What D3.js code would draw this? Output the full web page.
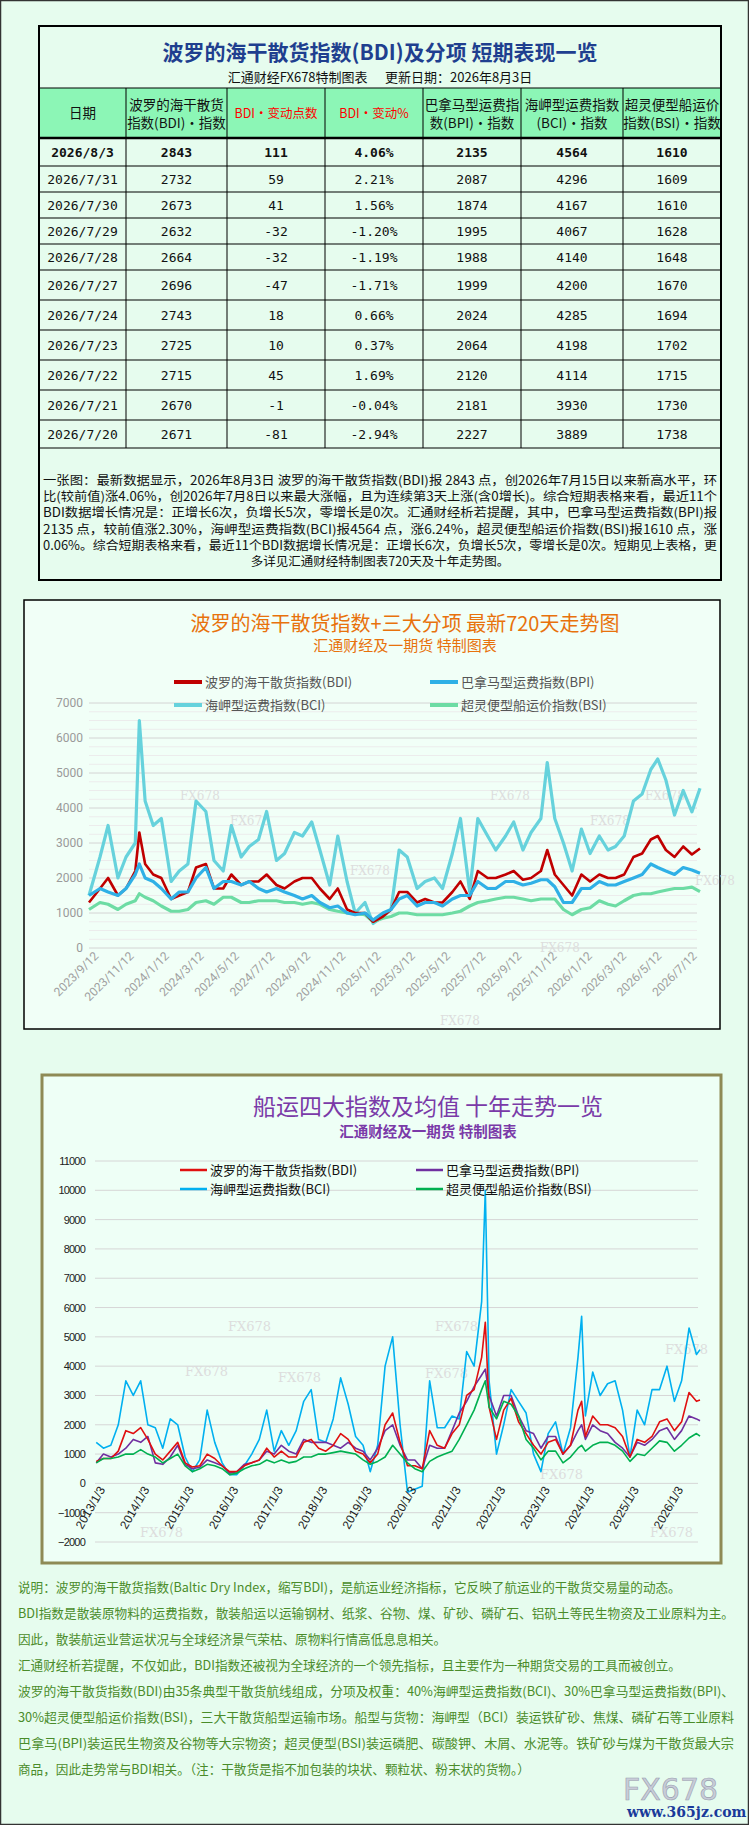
<!DOCTYPE html>
<html><head><meta charset="utf-8">
<script src="https://cdn.jsdelivr.net/npm/d3@7"></script>
<style>
body{margin:0;background:#e6fcee;}
svg{display:block;font-family:"Noto Sans CJK SC","Noto Sans",sans-serif;}
</style></head>
<body><svg id="page" width="749" height="1825"></svg>
<script>
var page_width = 749;
var page_height = 1825;

// ---------- table data ----------
var table_headers = ["日期", "波罗的海干散货|指数(BDI)·指数", "BDI·变动点数", "BDI·变动%", "巴拿马型运费指|数(BPI)·指数", "海岬型运费指数|(BCI)·指数", "超灵便型船运价|指数(BSI)·指数"];
var table_dates = ["2026/8/3","2026/7/31","2026/7/30","2026/7/29","2026/7/28","2026/7/27","2026/7/24","2026/7/23","2026/7/22","2026/7/21","2026/7/20"];
var table_bdi = [2843,2732,2673,2632,2664,2696,2743,2725,2715,2670,2671];
var table_chg = [111,59,41,-32,-32,-47,18,10,45,-1,-81];
var table_pct = ["4.06%","2.21%","1.56%","-1.20%","-1.19%","-1.71%","0.66%","0.37%","1.69%","-0.04%","-2.94%"];
var table_bpi = [2135,2087,1874,1995,1988,1999,2024,2064,2120,2181,2227];
var table_bci = [4564,4296,4167,4067,4140,4200,4285,4198,4114,3930,3889];
var table_bsi = [1610,1609,1610,1628,1648,1670,1694,1702,1715,1730,1738];

var summary_lines = [
 "一张图：最新数据显示，2026年8月3日 波罗的海干散货指数(BDI)报 2843 点，创2026年7月15日以来新高水平，环",
 "比(较前值)涨4.06%，创2026年7月8日以来最大涨幅，且为连续第3天上涨(含0增长)。综合短期表格来看，最近11个",
 "BDI数据增长情况是：正增长6次，负增长5次，零增长是0次。汇通财经析若提醒，其中，巴拿马型运费指数(BPI)报",
 "2135 点，较前值涨2.30%，海岬型运费指数(BCI)报4564 点，涨6.24%，超灵便型船运价指数(BSI)报1610 点，涨",
 "0.06%。综合短期表格来看，最近11个BDI数据增长情况是：正增长6次，负增长5次，零增长是0次。短期见上表格，更",
 "多详见汇通财经特制图表720天及十年走势图。"
];

// ---------- 720 day chart ----------
var dates1 = ["2023-09-12","2023-10-01","2023-10-15","2023-11-01","2023-11-15","2023-12-01","2023-12-08","2023-12-18",
 "2024-01-01","2024-01-15","2024-02-01","2024-02-15","2024-03-01","2024-03-15","2024-04-01","2024-04-15","2024-05-01","2024-05-15",
 "2024-06-01","2024-06-15","2024-07-01","2024-07-15","2024-08-01","2024-08-15","2024-09-01","2024-09-15","2024-10-01","2024-10-15",
 "2024-11-01","2024-11-15","2024-12-01","2024-12-15","2025-01-01","2025-01-15","2025-02-01","2025-02-15","2025-03-01","2025-03-15",
 "2025-04-01","2025-04-15","2025-05-01","2025-05-15","2025-06-01","2025-06-15","2025-07-01","2025-07-15","2025-08-01","2025-08-15",
 "2025-09-01","2025-09-15","2025-10-01","2025-10-15","2025-11-01","2025-11-12","2025-11-25","2025-12-10","2025-12-25",
 "2026-01-10","2026-01-25","2026-02-10","2026-02-25","2026-03-10","2026-03-25","2026-04-10","2026-04-25","2026-05-10","2026-05-22",
 "2026-06-05","2026-06-20","2026-07-05","2026-07-20","2026-08-03"];
var bdi1 = [1300,1700,2000,1500,1700,2200,3300,2400,2100,2000,1400,1500,1600,2300,2400,1700,1700,2100,1800,1900,1900,2100,1800,1700,
 1900,2000,2000,1700,1400,1700,1100,1000,1000,750,900,1100,1600,1600,1300,1400,1300,1300,1600,1900,1400,2200,2000,2000,
 2100,2200,1950,2000,2200,2800,2100,1800,1500,2100,1900,2100,2000,2000,2100,2600,2700,3100,3200,2800,2600,2900,2671,2843];
var bpi1 = [1500,1700,1600,1500,1700,2100,2400,2000,1900,1700,1400,1600,1600,2000,2300,1700,1900,1900,1800,1900,1700,1600,1700,1600,
 1500,1400,1500,1300,1150,1200,1000,950,1000,800,1000,1100,1400,1500,1200,1300,1300,1200,1400,1500,1500,1900,1700,1700,
 1900,1900,1800,1850,1950,1950,1750,1300,1300,1700,1700,1900,1800,1800,1900,2000,2100,2400,2300,2200,2100,2300,2227,2135];
var bci1 = [1500,2600,3500,2000,2600,3000,6500,4200,3500,3700,1900,2200,2400,4200,3900,2500,2200,3500,2600,2900,3100,3900,2500,2700,
 3300,3200,3600,2800,1800,3200,1900,1000,1300,700,900,1100,2800,2600,1700,1900,2000,1700,2700,3700,1600,3700,3200,2800,
 3200,3600,2800,3300,3700,5300,3700,3000,2200,3400,2700,3200,2800,2900,3200,4200,4400,5100,5400,4800,3800,4500,3889,4564];
var bsi1 = [1100,1300,1250,1100,1250,1350,1550,1450,1350,1200,1050,1050,1100,1300,1350,1250,1450,1450,1300,1300,1350,1350,1350,1300,
 1300,1250,1300,1250,1100,1050,1000,980,950,750,850,900,1000,1000,950,950,950,950,1000,1050,1200,1300,1350,1400,
 1450,1450,1400,1350,1400,1400,1400,1100,950,1100,1150,1350,1250,1200,1350,1500,1550,1550,1600,1650,1700,1700,1738,1610];
var ticks1 = ["2023/9/12","2023/11/12","2024/1/12","2024/3/12","2024/5/12","2024/7/12","2024/9/12","2024/11/12","2025/1/12",
 "2025/3/12","2025/5/12","2025/7/12","2025/9/12","2025/11/12","2026/1/12","2026/3/12","2026/5/12","2026/7/12"];

// ---------- ten year chart ----------
var dates2 = [
 "2013-01-05","2013-03-05","2013-05-05","2013-07-05","2013-09-05","2013-11-05",
 "2014-01-05","2014-03-05","2014-05-05","2014-07-05","2014-09-05","2014-11-05",
 "2015-01-05","2015-03-05","2015-05-05","2015-07-05","2015-09-05","2015-11-05",
 "2016-01-05","2016-03-05","2016-05-05","2016-07-05","2016-09-05","2016-11-05",
 "2017-01-05","2017-03-05","2017-05-05","2017-07-05","2017-09-05","2017-11-05",
 "2018-01-05","2018-03-05","2018-05-05","2018-07-05","2018-09-05","2018-11-05",
 "2019-01-05","2019-03-05","2019-05-05","2019-07-05","2019-09-05","2019-11-05",
 "2020-01-05","2020-03-05","2020-05-05","2020-07-05","2020-09-05","2020-11-05",
 "2021-01-05","2021-03-05","2021-05-05","2021-07-05","2021-09-05","2021-10-05","2021-11-05",
 "2022-01-05","2022-03-05","2022-05-05","2022-07-05","2022-09-05","2022-11-05",
 "2023-01-05","2023-03-05","2023-05-05","2023-07-05","2023-09-05","2023-11-05","2023-12-05",
 "2024-01-05","2024-03-05","2024-05-05","2024-07-05","2024-09-05","2024-11-05",
 "2025-01-05","2025-03-05","2025-05-05","2025-07-05","2025-09-05","2025-11-05",
 "2026-01-05","2026-03-05","2026-05-05","2026-07-05","2026-08-03"];
var bdi2 = [750,850,850,1100,1800,1700, 1900,1500,1000,800,1100,1400, 700,560,600,1000,850,600, 400,400,600,700,800,1200,
 900,1100,900,900,1400,1500, 1200,1100,1300,1700,1500,1100, 1000,700,1000,2000,2400,1400, 600,600,500,1800,1300,1200,
 1700,2000,3000,3200,4300,5500,2600, 1500,2500,2900,2100,1700,1300, 1000,1400,1500,1000,1300,2500,2800,
 1600,2300,2000,2000,1900,1600, 900,1500,1400,1600,2100,2200, 1800,2100,3100,2800,2843];
var bpi2 = [700,1000,900,1000,1200,1500, 1400,1600,700,650,900,1300, 650,500,550,800,700,600, 350,400,650,700,800,1100,
 1000,1300,1100,1000,1500,1400, 1400,1400,1300,1200,1400,1200, 1100,800,1200,1800,2000,1300, 800,800,500,1300,1200,1200,
 1800,2400,2800,3300,3700,3900,3000, 2300,3000,3000,2300,1800,1700, 1200,1600,1600,1000,1300,1800,2000,
 1500,2000,1800,1700,1400,1200, 900,1400,1300,1500,1800,1900, 1500,1800,2300,2200,2135];
var bci2 = [1400,1200,1300,2000,3500,3000, 3500,2000,1900,1200,2200,2000, 900,400,800,2500,1400,700, 300,300,600,1000,1500,2500,
 1100,1800,1300,1800,2800,3200, 1500,1400,2200,3600,2700,1600, 1300,400,1300,4000,5000,2000, -300,-200,-100,3500,1900,1900,
 2300,2200,4500,4000,6200,10000,3500, 1000,2000,3200,2800,2400,1000, 400,1700,2100,1000,1900,4300,5700,
 2300,3800,3000,3400,3500,2500, 900,2500,2000,3200,3200,4000, 2800,3500,5300,4400,4564];
var bsi2 = [700,850,850,900,1000,1000, 1150,1000,900,700,850,1000, 600,400,500,650,600,500, 300,350,500,600,650,800,
 700,800,700,750,900,900, 1000,1000,1050,1100,1050,1000, 800,650,750,900,1300,1000, 700,500,400,750,900,1000,
 1100,1500,2000,2500,3200,3500,2600, 2200,2800,2700,2300,1500,1200, 800,1100,1100,700,900,1200,1300,
 1100,1300,1400,1400,1300,1100, 750,1000,950,1200,1450,1400, 1100,1300,1550,1700,1610];
var ticks2 = ["2013/1/3","2014/1/3","2015/1/3","2016/1/3","2017/1/3","2018/1/3","2019/1/3","2020/1/3","2021/1/3",
 "2022/1/3","2023/1/3","2024/1/3","2025/1/3","2026/1/3"];

var note_lines = [
 "说明：波罗的海干散货指数(Baltic Dry Index，缩写BDI)，是航运业经济指标，它反映了航运业的干散货交易量的动态。",
 "BDI指数是散装原物料的运费指数，散装船运以运输钢材、纸浆、谷物、煤、矿砂、磷矿石、铝矾土等民生物资及工业原料为主。",
 "因此，散装航运业营运状况与全球经济景气荣枯、原物料行情高低息息相关。",
 "汇通财经析若提醒，不仅如此，BDI指数还被视为全球经济的一个领先指标，且主要作为一种期货交易的工具而被创立。",
 "波罗的海干散货指数(BDI)由35条典型干散货航线组成，分项及权重：40%海岬型运费指数(BCI)、30%巴拿马型运费指数(BPI)、",
 "30%超灵便型船运价指数(BSI)，三大干散货船型运输市场。船型与货物：海岬型（BCI）装运铁矿砂、焦煤、磷矿石等工业原料",
 "巴拿马(BPI)装运民生物资及谷物等大宗物资；超灵便型(BSI)装运磷肥、碳酸钾、木屑、水泥等。铁矿砂与煤为干散货最大宗",
 "商品，因此走势常与BDI相关。（注：干散货是指不加包装的块状、颗粒状、粉末状的货物。）"
];

var svg = d3.select("#page");
svg.append("rect").attr("x",0.5).attr("y",0.5).attr("width",page_width-1).attr("height",page_height-1)
  .attr("fill","#e6fcee").attr("stroke","#333").attr("stroke-width",1.5);

function displayTable()
{
  var g = svg.append("g");
  var colX = [39,126,227,325,423,521,623,721];
  var rowY = [138,166,192,218,244,270,300,330,360,390,420,448];
  g.append("rect").attr("x",colX[0]).attr("y",88).attr("width",682).attr("height",50).attr("fill","#8cf6b6");
  g.append("text").attr("x",380).attr("y",60).attr("text-anchor","middle").attr("font-size",21).attr("font-weight","bold")
    .attr("fill","#1f3f8f").text("波罗的海干散货指数(BDI)及分项  短期表现一览");
  g.append("text").attr("x",380).attr("y",82).attr("text-anchor","middle").attr("font-size",13).attr("fill","#111")
    .attr("xml:space","preserve").text("汇通财经FX678特制图表      更新日期：2026年8月3日");
  table_headers.forEach(function(h,i){
    var cx = (colX[i]+colX[i+1])/2;
    var parts = h.split("|");
    var red = (i==2||i==3);
    parts.forEach(function(p,j){
      g.append("text").attr("x",cx).attr("y", parts.length==1 ? 118 : 110+j*18).attr("text-anchor","middle")
       .attr("font-size", red ? 12.5 : 13.5).attr("fill", red ? "#ff0000" : "#111").text(p);
    });
  });
  var cols = [table_dates,table_bdi,table_chg,table_pct,table_bpi,table_bci,table_bsi];
  table_dates.forEach(function(d,r){
    var cy = (rowY[r]+rowY[r+1])/2 + 5;
    cols.forEach(function(c,i){
      g.append("text").attr("x",(colX[i]+colX[i+1])/2).attr("y",cy).attr("text-anchor","middle")
       .attr("font-family","'DejaVu Sans Mono',monospace").attr("font-size",13)
       .attr("font-weight", r==0 ? "bold" : "normal").attr("fill","#111").text(c[r]);
    });
  });
  rowY.forEach(function(y,i){
    g.append("line").attr("x1",colX[0]).attr("x2",colX[7]).attr("y1",y).attr("y2",y)
     .attr("stroke","#000").attr("stroke-width", i==0 ? 2.5 : 1);
  });
  colX.slice(1,7).forEach(function(x){
    g.append("line").attr("x1",x).attr("x2",x).attr("y1",88).attr("y2",448).attr("stroke","#000").attr("stroke-width",1);
  });
  g.append("line").attr("x1",colX[0]).attr("x2",colX[7]).attr("y1",88).attr("y2",88).attr("stroke","#000").attr("stroke-width",1);
  g.append("rect").attr("x",39).attr("y",26).attr("width",682).attr("height",554).attr("fill","none").attr("stroke","#000").attr("stroke-width",2);
  summary_lines.forEach(function(l,i){
    var t = g.append("text").attr("y",485+i*16.2).attr("font-size",12.5).attr("fill","#111").text(l);
    if (i < 5) t.attr("x",43).attr("textLength",674).attr("lengthAdjust","spacingAndGlyphs");
    else t.attr("x",380).attr("text-anchor","middle");
  });
}

function drawSeries(g, x, y, dates, values, color, width)
{
  var parse = d3.timeParse("%Y-%m-%d");
  var line = d3.line().x(function(d,i){ return x(parse(dates[i])); }).y(function(d){ return y(d); });
  g.append("path").datum(values).attr("d",line).attr("fill","none").attr("stroke",color)
   .attr("stroke-width",width).attr("stroke-linejoin","round");
}

function displayChart1()
{
  var g = svg.append("g");
  g.append("rect").attr("x",24).attr("y",600).attr("width",696).attr("height",429).attr("fill","#f1fff7").attr("stroke","#000").attr("stroke-width",1.5);
  g.append("text").attr("x",405).attr("y",631).attr("text-anchor","middle").attr("font-size",20).attr("fill","#e8720c").text("波罗的海干散货指数+三大分项  最新720天走势图");
  g.append("text").attr("x",405).attr("y",651).attr("text-anchor","middle").attr("font-size",15).attr("fill","#e8720c").text("汇通财经及一期货  特制图表");
  var parse = d3.timeParse("%Y-%m-%d");
  var x = d3.scaleTime().domain([parse("2023-09-12"),parse("2026-08-03")]).range([89,700]);
  var y = d3.scaleLinear().domain([0,7000]).range([948,703]);
  d3.range(0,7001,250).forEach(function(v){
    g.append("line").attr("x1",89).attr("x2",697).attr("y1",y(v)).attr("y2",y(v))
     .attr("stroke", v%1000==0 ? "#d4d4d4" : "#ececec").attr("stroke-width",1);
  });
  var ay = g.append("g").attr("transform","translate(86,0)").call(d3.axisLeft(y).tickValues(d3.range(0,7001,1000)).tickSize(0).tickFormat(d3.format("d")));
  ay.select(".domain").remove();
  ay.selectAll("text").attr("fill","#9a9a9a").attr("font-size",12).attr("font-family","Roboto,sans-serif");
  var tickDates = ticks1.map(function(t){ return d3.timeParse("%Y/%m/%d")(t); });
  var ax = g.append("g").attr("transform","translate(0,952)").call(d3.axisBottom(x).tickValues(tickDates).tickSize(0).tickFormat(d3.timeFormat("%Y/%-m/%-d")));
  ax.select(".domain").remove();
  ax.selectAll("text").attr("fill","#a0a0a0").attr("font-size",12).attr("font-family","Roboto,sans-serif")
    .attr("text-anchor","end").attr("dx","0.3em").attr("dy","0.6em").attr("transform","rotate(-45)");
  [[180,800],[230,825],[350,875],[490,800],[590,825],[540,952],[440,1025],[645,800],[695,885]].forEach(function(p){
    g.append("text").attr("x",p[0]).attr("y",p[1]).attr("font-size",12).attr("fill","#dddddd").attr("font-family","DejaVu Serif").text("FX678");
  });
  drawSeries(g,x,y,dates1,bci1,"#66d2dc",3.2);
  drawSeries(g,x,y,dates1,bsi1,"#6ddca4",3.2);
  drawSeries(g,x,y,dates1,bdi1,"#c00000",2.6);
  drawSeries(g,x,y,dates1,bpi1,"#2fb0e6",3.2);
  var leg = [["波罗的海干散货指数(BDI)","#c00000",174,682],["巴拿马型运费指数(BPI)","#2fb0e6",430,682],
             ["海岬型运费指数(BCI)","#66d2dc",174,705],["超灵便型船运价指数(BSI)","#6ddca4",430,705]];
  leg.forEach(function(l){
    g.append("line").attr("x1",l[2]).attr("x2",l[2]+28).attr("y1",l[3]).attr("y2",l[3]).attr("stroke",l[1]).attr("stroke-width",4);
    g.append("text").attr("x",l[2]+31).attr("y",l[3]+5).attr("font-size",13).attr("fill","#555").text(l[0]);
  });
}

function displayChart2()
{
  var g = svg.append("g");
  g.append("rect").attr("x",42).attr("y",1075).attr("width",679).attr("height",488).attr("fill","#eefff6").attr("stroke","#8e8a55").attr("stroke-width",3);
  g.append("text").attr("x",428).attr("y",1115).attr("text-anchor","middle").attr("font-size",23).attr("fill","#7a3aa8").text("船运四大指数及均值 十年走势一览");
  g.append("text").attr("x",428).attr("y",1137).attr("text-anchor","middle").attr("font-size",14.5).attr("font-weight","bold").attr("fill","#7a3aa8").text("汇通财经及一期货 特制图表");
  var parse = d3.timeParse("%Y-%m-%d");
  var x = d3.scaleTime().domain([parse("2013-01-03"),parse("2026-08-03")]).range([96,700]);
  var y = d3.scaleLinear().domain([-2000,11000]).range([1542,1161]);
  d3.range(-2000,11001,1000).forEach(function(v){
    g.append("line").attr("x1",95).attr("x2",698).attr("y1",y(v)).attr("y2",y(v)).attr("stroke","#d6d6d6").attr("stroke-width",1);
  });
  var ay = g.append("g").attr("transform","translate(88,0)").call(d3.axisLeft(y).tickValues(d3.range(-2000,11001,1000)).tickSize(0).tickFormat(d3.format("d")));
  ay.select(".domain").remove();
  ay.selectAll("text").attr("fill","#222").attr("font-size",11).attr("letter-spacing","-0.8").attr("font-family","'Liberation Sans',sans-serif");
  [[228,1331],[185,1376],[278,1382],[425,1378],[435,1331],[540,1479],[140,1537],[665,1354],[650,1537]].forEach(function(p){
    g.append("text").attr("x",p[0]).attr("y",p[1]).attr("font-size",13).attr("fill","#dddddd").attr("font-family","DejaVu Serif").text("FX678");
  });
  drawSeries(g,x,y,dates2,bci2,"#00b0f0",1.6);
  drawSeries(g,x,y,dates2,bpi2,"#7030a0",1.6);
  drawSeries(g,x,y,dates2,bdi2,"#e01010",1.6);
  drawSeries(g,x,y,dates2,bsi2,"#00b050",1.6);
  var tickDates = ticks2.map(function(t){ return d3.timeParse("%Y/%m/%d")(t); });
  var ax = g.append("g").attr("transform","translate(0,1487)").call(d3.axisBottom(x).tickValues(tickDates).tickSize(0).tickFormat(d3.timeFormat("%Y/%-m/%-d")));
  ax.select(".domain").remove();
  ax.selectAll("text").attr("fill","#222").attr("font-size",12).attr("font-family","'Liberation Sans',sans-serif")
    .attr("text-anchor","end").attr("dx","0.2em").attr("dy","0.5em").attr("transform","rotate(-60)");
  var leg = [["波罗的海干散货指数(BDI)","#e01010",180,1170],["巴拿马型运费指数(BPI)","#7030a0",416,1170],
             ["海岬型运费指数(BCI)","#00b0f0",180,1189],["超灵便型船运价指数(BSI)","#00b050",416,1189]];
  leg.forEach(function(l){
    g.append("line").attr("x1",l[2]).attr("x2",l[2]+27).attr("y1",l[3]).attr("y2",l[3]).attr("stroke",l[1]).attr("stroke-width",2.5);
    g.append("text").attr("x",l[2]+30).attr("y",l[3]+5).attr("font-size",13).attr("fill","#111").text(l[0]);
  });
}

function displayNotes()
{
  note_lines.forEach(function(l,i){
    var t = svg.append("text").attr("x",18).attr("y",1592+i*26).attr("font-size",12.6).attr("fill","#4a8c2a").text(l);
    if (i==1||i==4||i==5||i==6) t.attr("textLength",716).attr("lengthAdjust","spacingAndGlyphs");
  });
  svg.append("text").attr("x",623).attr("y",1800).attr("font-size",30).attr("fill","#c8ccd8").attr("stroke","#9aa0b0").attr("stroke-width",0.6).attr("font-family","'DejaVu Sans'").text("FX678");
  svg.append("text").attr("x",627).attr("y",1817).attr("font-size",14).attr("font-weight","bold").attr("fill","#1a3a9a").attr("font-family","'DejaVu Serif'").text("www.365jz.com");
}

displayTable();
displayChart1();
displayChart2();
displayNotes();
</script></body></html>
